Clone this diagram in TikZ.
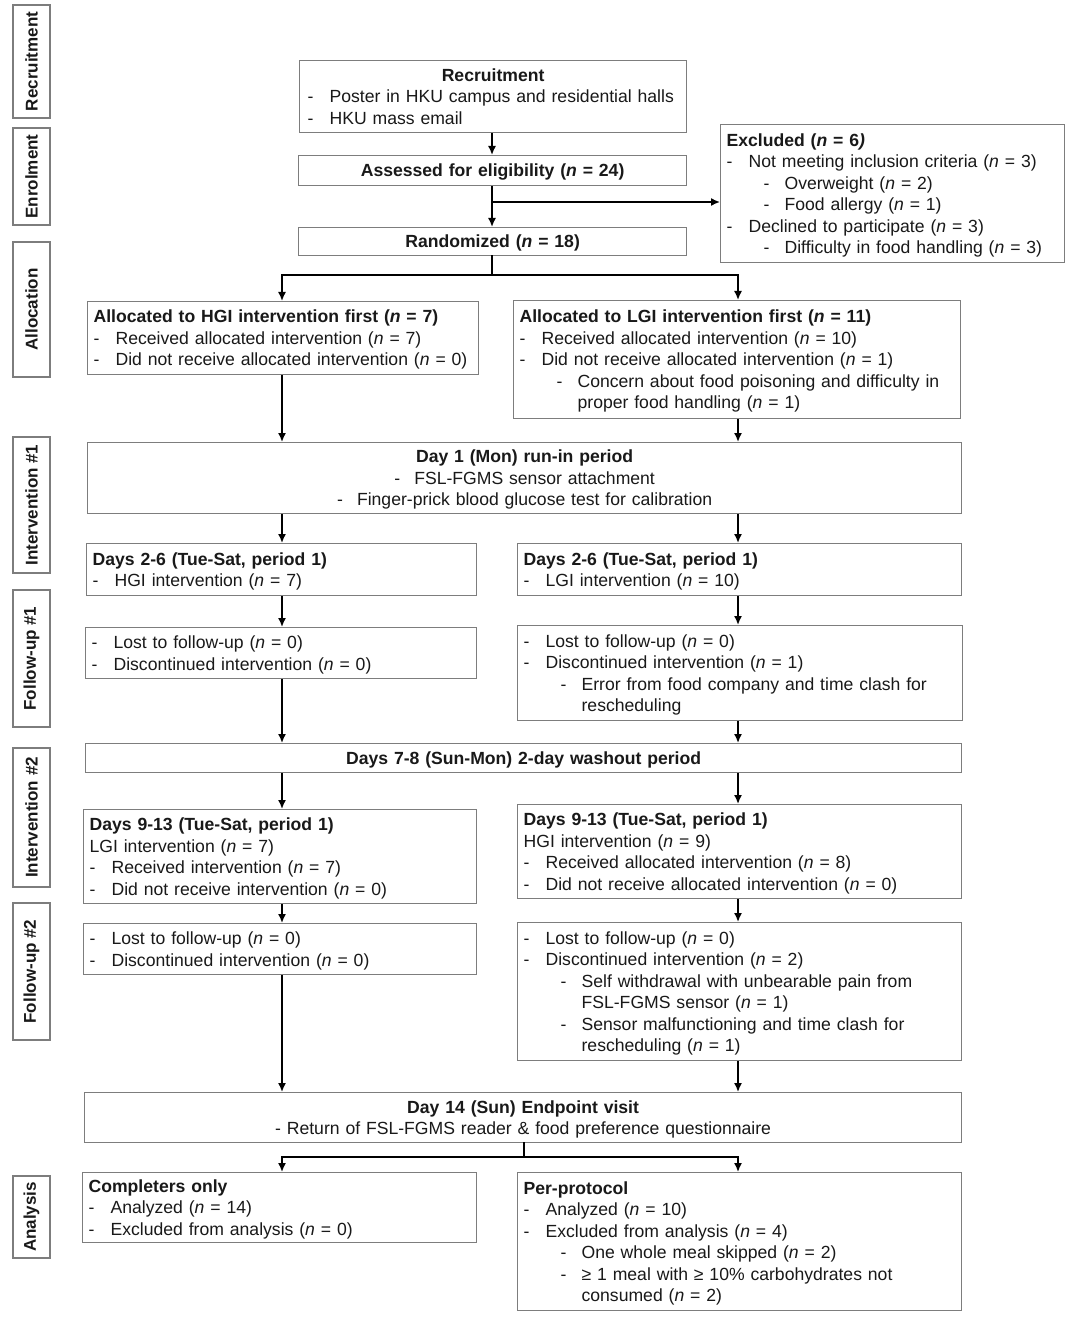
\documentclass[tikz,border=0pt]{standalone}
\usepackage{fontspec}
\setmainfont{Liberation Sans}
\usetikzlibrary{arrows.meta}
\definecolor{bordgray}{RGB}{125,125,125}
\definecolor{inkc}{RGB}{25,25,25}
\newcommand{\fs}{\fontsize{17.6}{21.5}\selectfont}
\newcommand{\itm}[1]{\mbox{\makebox[22pt][l]{-}#1}}
\newcommand{\sitm}[1]{\mbox{\hspace*{37pt}\makebox[21pt][l]{-}#1}}
\newcommand{\cnt}[1]{\mbox{\hspace*{58pt}#1}}
\newcommand{\nn}{\textit{n}}
\newcommand{\tops}{\rule{0pt}{17pt}}
\newcommand{\bots}{\rule[-4.5pt]{0pt}{4.5pt}}
\begin{document}
\begin{tikzpicture}[x=1pt,y=-1pt,
  bx/.style={draw=bordgray, line width=1.2pt, inner xsep=6pt, inner ysep=0pt, anchor=north west, align=left, font=\fs, text=inkc},
  bxc/.style={bx, align=center},
  side/.style={draw=bordgray, line width=1.2pt, inner sep=0pt, rotate=90, font=\fontsize{17}{20}\selectfont\bfseries, minimum height=37pt, text=inkc},
  conn/.style={line width=1.6pt, draw=black, line cap=rect},
  arr/.style={line width=1.6pt, draw=black, -{Latex[length=9pt,width=8pt]}}]
\fill[white] (0,0) rectangle (1080,1321);
\useasboundingbox (0,0) rectangle (1080,1321);

% side labels
\node[side, minimum width=113pt] (sRec) at (31.5,61.5) {Recruitment};
\node[side, minimum width=97pt] (sEnr) at (31.5,176.5) {Enrolment};
\node[side, minimum width=135pt] (sAll) at (31.5,309.5) {Allocation};
\node[side, minimum width=136pt] (sInt1) at (31.5,505) {Intervention \#1};
\node[side, minimum width=137pt] (sFol1) at (31.5,658.5) {Follow-up \#1};
\node[side, minimum width=139pt] (sInt2) at (31.5,817.5) {Intervention \#2};
\node[side, minimum width=137pt] (sFol2) at (31.5,971.5) {Follow-up \#2};
\node[side, minimum width=82pt] (sAna) at (31.5,1217) {Analysis};

% main boxes
\node[bx, text width=375pt, minimum height=72pt] (rec) at (299,60) {\tops\hfill\textbf{Recruitment}\hfill\mbox{}\\ \hspace*{2pt}\itm{Poster in HKU campus and residential halls}\\ \hspace*{2pt}\itm{HKU mass email}\bots};
\node[bxc, text width=376pt, minimum height=30pt] (ass) at (298,155) {\tops\textbf{Assessed for eligibility (\textit{n} = 24)}\bots};
\node[bxc, text width=376pt, minimum height=28pt] (ran) at (298,227) {\tops\textbf{Randomized (\textit{n} = 18)}\bots};
\node[bx, text width=332pt, minimum height=138pt] (exc) at (720,124) {\tops\textbf{Excluded (\textit{n} = 6\textit{)}}\\ \itm{Not meeting inclusion criteria (\nn{} = 3)}\\ \sitm{Overweight (\nn{} = 2)}\\ \sitm{Food allergy (\nn{} = 1)}\\ \itm{Declined to participate (\nn{} = 3)}\\ \sitm{Difficulty in food handling (\nn{} = 3)}\bots};

\node[bx, text width=379pt, minimum height=73pt] (hgi) at (87,301) {\tops\textbf{Allocated to HGI intervention first (\textit{n} = 7)}\\ \itm{Received allocated intervention (\nn{} = 7)}\\ \itm{Did not receive allocated intervention (\nn{} = 0)}\bots};
\node[bx, text width=435pt, minimum height=118pt] (lgi) at (513,300) {\tops\textbf{Allocated to LGI intervention first (\textit{n} = 11)}\\ \itm{Received allocated intervention (\nn{} = 10)}\\ \itm{Did not receive allocated intervention (\nn{} = 1)}\\ \sitm{Concern about food poisoning and difficulty in}\\ \cnt{proper food handling (\nn{} = 1)}\bots};

\node[bxc, text width=862pt, minimum height=71pt] (day1) at (87,442) {\tops\textbf{Day 1 (Mon) run-in period}\\ \makebox[20pt][l]{-}FSL-FGMS sensor attachment\\ \makebox[20pt][l]{-}Finger-prick blood glucose test for calibration\bots};

\node[bx, text width=378pt, minimum height=52pt] (d26L) at (86,543) {\tops\textbf{Days 2-6 (Tue-Sat, period 1)}\\ \itm{HGI intervention (\nn{} = 7)}\bots};
\node[bx, text width=432pt, minimum height=52pt] (d26R) at (517,543) {\tops\textbf{Days 2-6 (Tue-Sat, period 1)}\\ \itm{LGI intervention (\nn{} = 10)}\bots};

\node[bx, text width=379pt, minimum height=51pt] (f1L) at (85,627) {\tops\itm{Lost to follow-up (\nn{} = 0)}\\ \itm{Discontinued intervention (\nn{} = 0)}\bots};
\node[bx, text width=433pt, minimum height=95pt] (f1R) at (517,625) {\tops\itm{Lost to follow-up (\nn{} = 0)}\\ \itm{Discontinued intervention (\nn{} = 1)}\\ \sitm{Error from food company and time clash for}\\ \cnt{rescheduling}\bots};

\node[bxc, text width=864pt, minimum height=29pt] (wash) at (85,743) {\tops\textbf{Days 7-8 (Sun-Mon) 2-day washout period}\bots};

\node[bx, text width=381pt, minimum height=94pt] (d913L) at (83,809) {\tops\textbf{Days 9-13 (Tue-Sat, period 1)}\\ LGI intervention (\nn{} = 7)\\ \itm{Received intervention (\nn{} = 7)}\\ \itm{Did not receive intervention (\nn{} = 0)}\bots};
\node[bx, text width=432pt, minimum height=94pt] (d913R) at (517,804) {\tops\textbf{Days 9-13 (Tue-Sat, period 1)}\\ HGI intervention (\nn{} = 9)\\ \itm{Received allocated intervention (\nn{} = 8)}\\ \itm{Did not receive allocated intervention (\nn{} = 0)}\bots};

\node[bx, text width=381pt, minimum height=51pt] (f2L) at (83,923) {\tops\itm{Lost to follow-up (\nn{} = 0)}\\ \itm{Discontinued intervention (\nn{} = 0)}\bots};
\node[bx, text width=432pt, minimum height=138pt] (f2R) at (517,922) {\tops\itm{Lost to follow-up (\nn{} = 0)}\\ \itm{Discontinued intervention (\nn{} = 2)}\\ \sitm{Self withdrawal with unbearable pain from}\\ \cnt{FSL-FGMS sensor (\nn{} = 1)}\\ \sitm{Sensor malfunctioning and time clash for}\\ \cnt{rescheduling (\nn{} = 1)}\bots};

\node[bxc, text width=865pt, minimum height=50pt] (day14) at (84,1092) {\tops\textbf{Day 14 (Sun) Endpoint visit}\\ - Return of FSL-FGMS reader \& food preference questionnaire\bots};

\node[bx, text width=382pt, minimum height=70pt] (comp) at (82,1172) {\tops\textbf{Completers only}\\ \itm{Analyzed (\nn{} = 14)}\\ \itm{Excluded from analysis (\nn{} = 0)}\bots};
\node[bx, text width=432pt, minimum height=138pt] (pp) at (517,1172) {\tops\textbf{Per-protocol}\\ \itm{Analyzed (\nn{} = 10)}\\ \itm{Excluded from analysis (\nn{} = 4)}\\ \sitm{One whole meal skipped (\nn{} = 2)}\\ \sitm{≥ 1 meal with ≥ 10\% carbohydrates not}\\ \cnt{consumed (\nn{} = 2)}\bots};

% connectors
\coordinate (colA) at (492,0);
\coordinate (colL) at (282,0);
\coordinate (colR) at (738,0);
\coordinate (brE) at (492,202);
\coordinate (spA) at (492,275);
\coordinate (spB) at (524,1157);

\draw[arr] (rec.south -| colA) -- (ass.north -| colA);
\draw[arr] (ass.south -| colA) -- (ran.north -| colA);
\draw[arr] (brE) -- (brE -| exc.west);
\draw[conn] (ran.south -| colA) -- (spA);
\draw[conn] (spA -| colL) -- (spA -| colR);
\draw[arr] (spA -| colL) -- (hgi.north -| colL);
\draw[arr] (spA -| colR) -- (lgi.north -| colR);

\draw[arr] (hgi.south -| colL) -- (day1.north -| colL);
\draw[arr] (lgi.south -| colR) -- (day1.north -| colR);
\draw[arr] (day1.south -| colL) -- (d26L.north -| colL);
\draw[arr] (day1.south -| colR) -- (d26R.north -| colR);
\draw[arr] (d26L.south -| colL) -- (f1L.north -| colL);
\draw[arr] (d26R.south -| colR) -- (f1R.north -| colR);
\draw[arr] (f1L.south -| colL) -- (wash.north -| colL);
\draw[arr] (f1R.south -| colR) -- (wash.north -| colR);
\draw[arr] (wash.south -| colL) -- (d913L.north -| colL);
\draw[arr] (wash.south -| colR) -- (d913R.north -| colR);
\draw[arr] (d913L.south -| colL) -- (f2L.north -| colL);
\draw[arr] (d913R.south -| colR) -- (f2R.north -| colR);
\draw[arr] (f2L.south -| colL) -- (day14.north -| colL);
\draw[arr] (f2R.south -| colR) -- (day14.north -| colR);

\draw[conn] (day14.south -| spB) -- (spB);
\draw[conn] (spB -| colL) -- (spB -| colR);
\draw[arr] (spB -| colL) -- (comp.north -| colL);
\draw[arr] (spB -| colR) -- (pp.north -| colR);
\end{tikzpicture}
\end{document}
